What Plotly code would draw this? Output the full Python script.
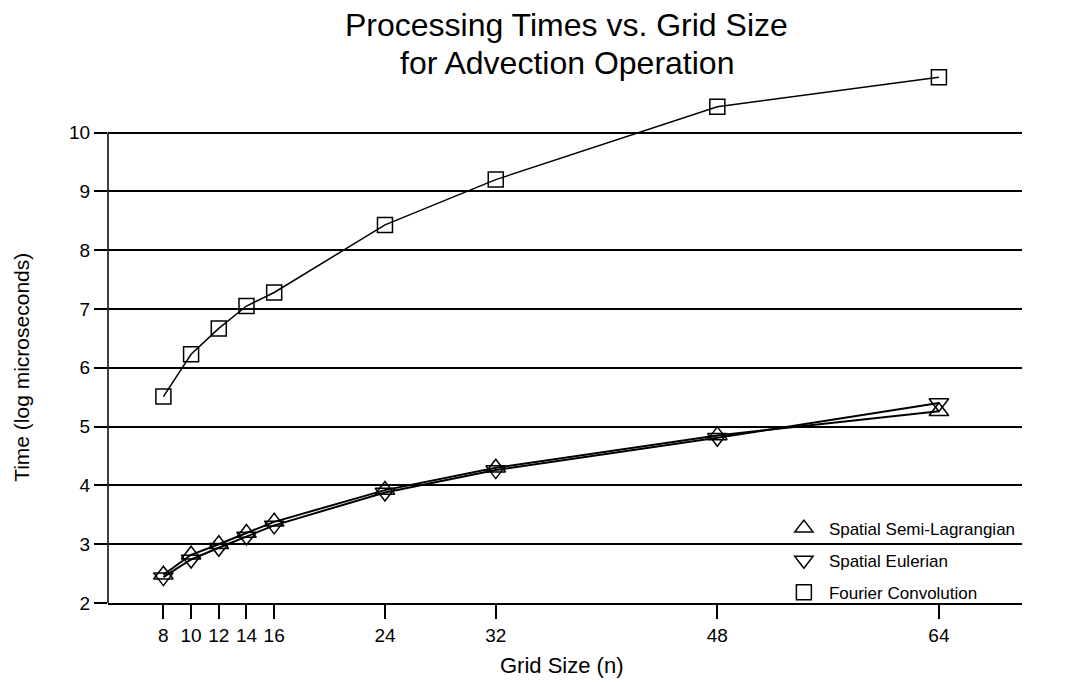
import plotly.graph_objects as go

grid_sizes = [8, 10, 12, 14, 16, 24, 32, 48, 64]
semi_lagrangian = [2.48, 2.82, 3.00, 3.19, 3.38, 3.92, 4.30, 4.85, 5.26]
eulerian = [2.44, 2.74, 2.94, 3.13, 3.32, 3.88, 4.26, 4.81, 5.40]
fourier = [5.51, 6.23, 6.67, 7.05, 7.28, 8.43, 9.20, 10.44, 10.94]
y_ticks = [2, 3, 4, 5, 6, 7, 8, 9, 10]

series = [
    ("Spatial Semi-Lagrangian", semi_lagrangian, "triangle-up-open", 17, 2),
    ("Spatial Eulerian", eulerian, "triangle-down-open", 17, 2),
    ("Fourier Convolution", fourier, "square-open", 15, 1.5),
]

FONT = "Liberation Sans, Arial, Helvetica, sans-serif"

fig = go.Figure()
for i, (name, vals, sym, msize, lw) in enumerate(series):
    fig.add_trace(go.Scatter(
        x=grid_sizes, y=vals, mode="lines", showlegend=False,
        line=dict(color="black", width=lw), hoverinfo="skip"))
for i, (name, vals, sym, msize, lw) in enumerate(series):
    fig.add_trace(go.Scatter(
        x=grid_sizes, y=vals, name=name, mode="markers", legendgroup=f"g{i}",
        marker=dict(symbol=sym, size=msize, color="black", line=dict(width=1.5, color="black")),
        cliponaxis=False))

fig.update_layout(
    width=1074, height=684,
    margin=dict(l=108, r=52, t=62, b=81),
    paper_bgcolor="white", plot_bgcolor="white",
    font=dict(family=FONT, color="black", size=19),
    showlegend=True,
    legend=dict(x=0.734, y=-0.014, xanchor="left", yanchor="bottom",
                bgcolor="rgba(0,0,0,0)", borderwidth=0,
                font=dict(size=17, family=FONT), tracegroupgap=7,
                itemwidth=40),
    xaxis=dict(range=[4, 70], tickvals=grid_sizes, ticktext=[str(v) for v in grid_sizes],
               showgrid=False, zeroline=False, showline=True, linecolor="black", linewidth=1.5,
               ticks="outside", ticklen=14, tickwidth=1.5, tickcolor="black",
               tickfont=dict(size=19)),
    yaxis=dict(range=[2, 11.2], tickvals=y_ticks, ticktext=[str(v) for v in y_ticks],
               showgrid=True, gridcolor="black", gridwidth=1.5, zeroline=False,
               showline=False, ticks="outside", ticklen=13, tickwidth=1.5, tickcolor="black",
               tickfont=dict(size=19)),
)

# left axis line only spanning the tick range
fig.add_shape(type="line", xref="paper", yref="y", x0=0, x1=0, y0=2, y1=10,
              line=dict(color="black", width=1.5))

fig.add_annotation(text="Processing Times vs. Grid Size", xref="paper", yref="paper",
                   x=0.502, y=1.068, showarrow=False, font=dict(size=32, family=FONT),
                   xanchor="center", yanchor="middle")
fig.add_annotation(text="for Advection Operation", xref="paper", yref="paper",
                   x=0.502, y=0.998, showarrow=False, font=dict(size=32, family=FONT),
                   xanchor="center", yanchor="middle")
fig.add_annotation(text="Grid Size (n)", xref="paper", yref="paper",
                   x=0.496, y=-0.116, showarrow=False, font=dict(size=22, family=FONT),
                   xanchor="center", yanchor="middle")
fig.add_annotation(text="Time (log microseconds)", xref="paper", yref="y",
                   x=-0.094, y=6, showarrow=False, textangle=-90,
                   font=dict(size=21, family=FONT), xanchor="center", yanchor="middle")

fig.write_html("out.html")
